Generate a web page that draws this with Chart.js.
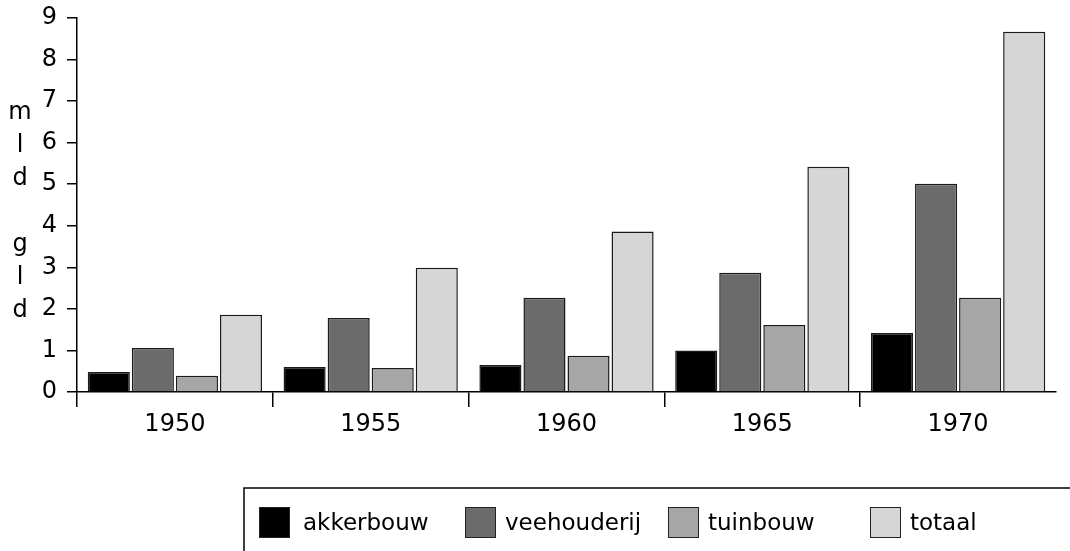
<!DOCTYPE html>
<html>
<head>
<meta charset="utf-8">
<script src="https://cdn.jsdelivr.net/npm/chart.js@4/dist/chart.umd.min.js"></script>
<style>
  html, body { margin: 0; padding: 0; background: #fff; }
  #wrap { width: 1070px; height: 551px; }
</style>
</head>
<body>
<div id="wrap"><canvas id="grafiek"></canvas></div>
<script>
// gegevens (mld gulden)
const jaren = ["1950", "1955", "1960", "1965", "1970"];
const reeksen = ["akkerbouw", "veehouderij", "tuinbouw", "totaal"];
const akkerbouw = [0.48, 0.60, 0.65, 1.00, 1.42];
const veehouderij = [1.06, 1.78, 2.27, 2.87, 5.01];
const tuinbouw = [0.39, 0.58, 0.87, 1.61, 2.27];
const totaal = [1.86, 2.99, 3.86, 5.42, 8.67];
const kleuren = ["#000000", "#6b6b6b", "#a6a6a6", "#d6d6d6"];
const asTitel = ["m", "l", "d", "", "g", "l", "d"];

const lettertype = "'DejaVu Sans', sans-serif";

// verticale astitel, letter voor letter
const asTitelPlugin = {
  id: "asTitel",
  afterDraw(chart) {
    const c = chart.ctx;
    c.save();
    c.fillStyle = "#000";
    c.font = "24px " + lettertype;
    c.textAlign = "center";
    c.textBaseline = "middle";
    asTitel.forEach((l, i) => {
      c.fillText(l, 20, 113 + i * 33);
    });
    c.restore();
  }
};

// legenda in een kader onderaan
const legendaPlugin = {
  id: "legendaKader",
  afterDraw(chart) {
    const c = chart.ctx;
    const xs = [259, 465, 668, 870];
    c.save();
    c.strokeStyle = "#000";
    c.lineWidth = 1.5;
    c.strokeRect(244, 488, 900, 100);
    c.font = "23px " + lettertype;
    c.textBaseline = "middle";
    chart.data.datasets.forEach((ds, i) => {
      c.fillStyle = ds.backgroundColor;
      c.fillRect(xs[i], 507, 31, 31);
      c.strokeStyle = "#222";
      c.lineWidth = 1;
      c.strokeRect(xs[i] + 0.5, 507.5, 30, 30);
      c.fillStyle = "#000";
      c.fillText(ds.label, xs[i] + (i === 0 ? 44 : 40), 524);
    });
    c.restore();
  }
};

const waarden = [akkerbouw, veehouderij, tuinbouw, totaal];

new Chart(document.getElementById("grafiek").getContext("2d"), {
  type: "bar",
  data: {
    labels: jaren,
    datasets: reeksen.map((naam, i) => ({
      label: naam,
      data: waarden[i],
      backgroundColor: kleuren[i],
      borderColor: "#1a1a1a",
      borderWidth: 1.5,
      categoryPercentage: 0.9,
      barPercentage: 0.955
    }))
  },
  options: {
    responsive: true,
    maintainAspectRatio: false,
    animation: false,
    layout: { padding: { top: 18, right: 14, left: 0, bottom: 0 } },
    plugins: {
      legend: { display: false },
      tooltip: { enabled: false }
    },
    scales: {
      x: {
        afterFit(scale) { scale.height = 159; },
        grid: {
          offset: true,
          drawOnChartArea: false,
          tickLength: 15,
          lineWidth: 1.5,
          // geen streepje aan het rechtereinde van de as
          color: (ctx) => ctx.tick ? "#000" : "rgba(0,0,0,0)"
        },
        border: { color: "#000", width: 1.5 },
        ticks: {
          color: "#000",
          padding: 3,
          font: { family: lettertype, size: 24 }
        }
      },
      y: {
        min: 0,
        max: 9,
        afterFit(scale) {
          scale.width = 77;
          scale.paddingTop = 0;
          scale.paddingBottom = 0;
        },
        grid: {
          drawOnChartArea: false,
          tickLength: 10,
          lineWidth: 1.5,
          color: "#000"
        },
        border: { color: "#000", width: 1.5 },
        ticks: {
          stepSize: 1,
          color: "#000",
          padding: 10,
          font: { family: lettertype, size: 24 }
        }
      }
    }
  },
  plugins: [asTitelPlugin, legendaPlugin]
});
</script>
</body>
</html>
